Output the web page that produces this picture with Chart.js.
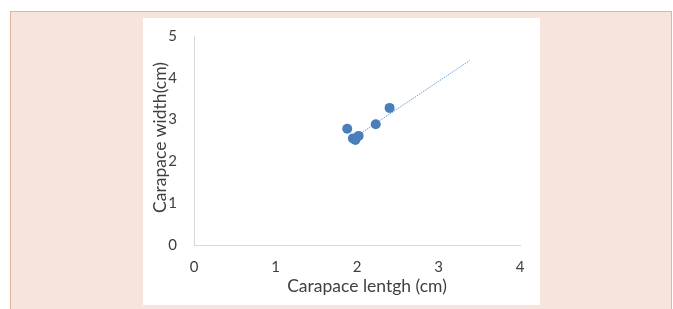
<!DOCTYPE html>
<html>
<head>
<meta charset="utf-8">
<script src="https://cdn.jsdelivr.net/npm/chart.js@4/dist/chart.umd.min.js"></script>
<style>
  html, body { margin: 0; padding: 0; background: #ffffff; width: 673px; height: 309px; overflow: hidden; }
  #pink { position: absolute; left: 10px; top: 11px; width: 660px; height: 310px; background: #f7e4dc; border: 1px solid #e6b0a2; }
  #white { position: absolute; left: 143px; top: 18px; width: 397px; height: 287px; background: #ffffff; }
  canvas { position: absolute; left: 0; top: 0; }
</style>
</head>
<body>
<div id="pink"></div>
<div id="white"><canvas id="c" width="397" height="287"></canvas></div>
<script>
const lengthCm = [1.88, 2.40, 2.23, 1.95, 2.02, 1.98];
const widthCm  = [2.78, 3.28, 2.89, 2.55, 2.61, 2.51];
const trendX = [1.97, 3.38];
const trendY = [2.57, 4.41];
const xTicks = [0, 1, 2, 3, 4];
const yTicks = [0, 1, 2, 3, 4, 5];
const xTitle = 'Carapace lentgh (cm)';
const yTitle = 'Carapace width(cm)';

const pts = lengthCm.map((x, i) => ({ x: x, y: widthCm[i] }));
const trend = trendX.map((x, i) => ({ x: x, y: trendY[i] }));
const FONT = "Lato, 'Open Sans', 'Liberation Sans', sans-serif";

function shiftTitle(s, dx, dy) {
  if (s._titlePatched) return;
  const orig = s.drawTitle;
  s.drawTitle = function () {
    const ctx = this.ctx;
    ctx.save();
    ctx.translate(dx, dy);
    orig.apply(this, arguments);
    ctx.restore();
  };
  s._titlePatched = true;
}

new Chart(document.getElementById('c'), {
  type: 'scatter',
  data: {
    datasets: [
      { data: pts, backgroundColor: '#4a7ebb', borderColor: '#4a7ebb', pointRadius: 5, pointHoverRadius: 5, borderWidth: 0 },
      { type: 'line', data: trend, borderColor: '#6a9fd8', borderWidth: 1, borderDash: [1.5, 1], pointRadius: 0, fill: false, showLine: true }
    ]
  },
  options: {
    responsive: false,
    animation: false,
    events: [],
    layout: { padding: { top: 18, right: 20, left: 0, bottom: 0 } },
    plugins: { legend: { display: false }, tooltip: { enabled: false } },
    scales: {
      x: {
        type: 'linear', min: 0, max: 4,
        afterBuildTicks: s => { s.ticks = xTicks.map(v => ({ value: v })); },
        afterFit: s => { s.height = 60; shiftTitle(s, 10, 0); },
        grid: { drawOnChartArea: false, drawTicks: false },
        border: { color: '#d9d9d9', width: 1 },
        ticks: { padding: 13, color: '#404040', font: { family: FONT, size: 15 } },
        title: { display: true, text: xTitle, color: '#404040', padding: { top: 0, bottom: 8 }, font: { family: FONT, size: 17.5 } }
      },
      y: {
        type: 'linear', min: 0, max: 5,
        afterBuildTicks: s => { s.ticks = yTicks.map(v => ({ value: v })); },
        afterFit: s => { s.width = 51; s.paddingTop = 9; s.paddingBottom = 9; shiftTitle(s, 0, -3); },
        grid: { drawOnChartArea: false, drawTicks: false },
        border: { color: '#d9d9d9', width: 1 },
        ticks: { padding: 17, color: '#404040', font: { family: FONT, size: 15 } },
        title: { display: true, text: yTitle, color: '#404040', padding: { top: 6.5, bottom: 0 }, font: { family: FONT, size: 17.5 } }
      }
    }
  }
});
</script>
</body>
</html>
